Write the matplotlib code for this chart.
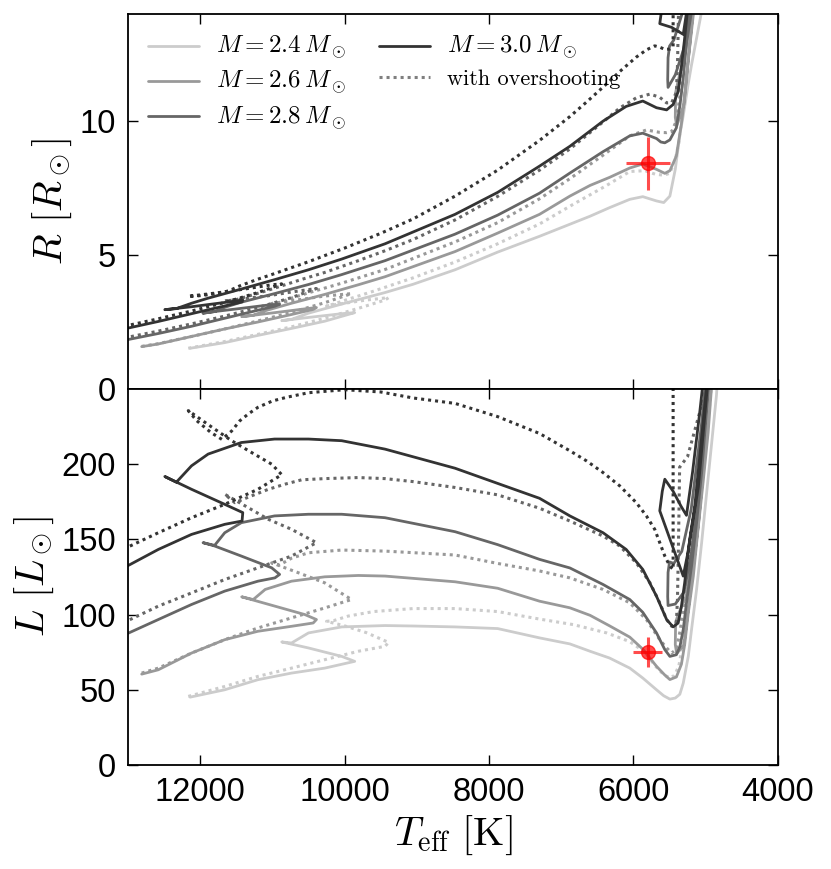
import matplotlib.pyplot as plt
from matplotlib.lines import Line2D

plt.rcParams["mathtext.fontset"] = "cm"
plt.rcParams["font.family"] = ["Liberation Sans", "DejaVu Sans"]

# ---- tracks without overshooting: Teff [K], L [Lsun], R [Rsun]
teff_24 = [12140, 11660, 11200, 10735, 10275, 9860, 10040, 10500, 10870, 10735, 10500, 10040,
           9440, 9050, 8470, 7880, 7300, 6880, 6600, 6330, 6050, 5870, 5680, 5580, 5495, 5420,
           5357, 5310, 5240, 5195, 5125, 5055, 4990, 4920, 4850, 4800]
lum_24 = [45.1, 50.0, 56.7, 61.1, 64.4, 68.9, 72.2, 77.8, 81.8, 81.1, 87.8, 91.8,
          92.7, 92.4, 91.8, 90.7, 84.5, 80.5, 75.6, 71.1, 64.4, 57.8, 50.0, 46.0, 43.8, 44.5,
          47.0, 54.4, 72.2, 90.0, 116.7, 147.8, 178.9, 212.2, 245.6, 280.0]
rad_24 = [1.52, 1.73, 2.00, 2.26, 2.53, 2.85, 2.81, 2.67, 2.55, 2.60, 2.83, 3.17,
          3.60, 3.91, 4.45, 5.11, 5.70, 6.15, 6.45, 6.77, 7.08, 7.18, 7.02, 6.96, 7.20, 8.20,
          9.50, 10.20, 11.40, 12.10, 13.10, 14.10, 15.00, 16.00, 17.00, 18.00]

teff_26 = [12810, 12580, 12120, 11660, 11200, 10735, 10435, 10390, 10550, 10965, 11425, 11265,
           11100, 10735, 10275, 9810, 9440, 8470, 7880, 7300, 6880, 6600, 6330, 6050, 5870,
           5680, 5565, 5495, 5405, 5335, 5290, 5240, 5170, 5105, 5035, 4965, 4920, 4860, 4930,
           5100, 5300, 5400, 5420, 5415, 5380, 5270, 5150, 4990, 4900]
lum_26 = [60.4, 63.3, 74.4, 83.3, 88.9, 92.2, 94.4, 96.7, 100.0, 105.6, 111.8, 110.0,
          116.7, 122.2, 125.1, 126.0, 125.6, 121.8, 117.5, 108.9, 104.5, 99.5, 92.5, 85.0, 77.0,
          65.6, 59.8, 56.8, 58.5, 67.0, 80.0, 101.1, 125.6, 156.7, 187.8, 221.0, 250.0, 290.0, 250.0,
          160.0, 80.0, 74.0, 80.0, 95.0, 100.0, 112.0, 150.0, 230.0, 280.0]
rad_26 = [1.58, 1.68, 1.96, 2.24, 2.50, 2.78, 2.97, 3.04, 2.99, 2.85, 2.70, 2.75,
          2.92, 3.20, 3.53, 3.89, 4.19, 5.13, 5.82, 6.52, 7.20, 7.60, 7.90, 8.25, 8.40,
          8.20, 8.05, 8.15, 8.70, 9.90, 10.90, 12.30, 13.97, 16.00, 18.01, 20.09, 21.76, 24.02, 21.67,
          16.20, 10.61, 9.83, 10.14, 11.07, 11.51, 12.70, 15.38, 20.29, 23.22]

teff_28 = [13150, 12970, 12580, 12120, 11660, 11200, 10965, 10900, 11010, 11430, 11800, 11960,
           11800, 11660, 11430, 10970, 10500, 10040, 9440, 8470, 7880, 7300, 6880, 6420, 6050,
           5870, 5680, 5620, 5565, 5495, 5405, 5355, 5310, 5265, 5195, 5125, 5055, 4965, 4880,
           4950, 5090, 5200, 5300, 5420, 5520, 5525, 5520, 5500, 5440, 5330, 5200, 5060, 4970]
lum_28 = [84.3, 88.2, 96.7, 106.7, 115.6, 122.2, 124.4, 126.7, 131.1, 138.9, 145.6, 147.8,
          146.0, 154.4, 161.1, 165.6, 166.7, 166.7, 164.4, 155.1, 146.5, 136.7, 131.0, 120.0, 110.0,
          101.5, 87.8, 82.0, 76.7, 72.2, 73.3, 78.9, 90.0, 107.8, 132.2, 161.1, 194.4, 250.0, 300.0,
          260.0, 185.0, 140.0, 115.0, 107.0, 106.0, 112.0, 128.0, 135.0, 134.0, 142.0, 170.0, 225.0, 270.0]
rad_28 = [1.77, 1.86, 2.07, 2.34, 2.64, 2.94, 3.09, 3.16, 3.15, 3.01, 2.89, 2.83,
          2.89, 3.05, 3.24, 3.56, 3.90, 4.27, 4.79, 5.78, 6.49, 7.31, 8.06, 8.86, 9.45,
          9.55, 9.35, 9.22, 9.19, 9.30, 9.75, 10.60, 11.60, 12.90, 14.10, 16.10, 18.18, 21.37, 24.23,
          21.93, 17.49, 14.58, 12.72, 11.73, 11.26, 11.55, 12.37, 12.80, 13.03, 13.97, 16.06, 19.52, 22.16]

teff_30 = [13150, 12970, 12580, 12120, 11660, 11420, 11410, 11660, 12120, 12490, 12330, 12120,
           11890, 11430, 10970, 10500, 10040, 9440, 8470, 7880, 7300, 6880, 6420, 6100, 5870,
           5680, 5540, 5450, 5380, 5335, 5290, 5220, 5150, 5080, 4990, 4900, 4960, 5100, 5250,
           5310, 5470, 5635, 5600, 5565, 5450, 5340, 5265, 5180, 5080, 5000]
lum_30 = [129.0, 133.3, 143.3, 153.3, 160.0, 162.2, 167.8, 173.3, 183.3, 191.8, 188.0, 198.9,
          206.7, 214.4, 216.7, 216.7, 215.6, 210.0, 197.3, 187.2, 177.3, 165.6, 154.4, 143.3, 130.0,
          112.2, 96.7, 91.8, 94.4, 105.6, 121.1, 150.0, 172.2, 205.6, 250.0, 320.0, 260.0, 185.0, 140.0,
          125.6, 147.0, 169.0, 182.0, 190.0, 182.0, 172.0, 166.0, 195.0, 235.0, 270.0]
rad_30 = [2.19, 2.29, 2.52, 2.81, 3.10, 3.25, 3.32, 3.23, 3.07, 2.96, 3.00, 3.20,
          3.39, 3.73, 4.08, 4.45, 4.85, 5.42, 6.52, 7.34, 8.32, 9.06, 10.00, 10.55, 10.75,
          10.50, 10.42, 10.62, 11.10, 12.03, 13.10, 14.98, 16.48, 18.51, 21.15, 24.82, 21.84, 17.42, 14.30,
          13.24, 13.50, 13.64, 14.33, 14.83, 15.13, 15.32, 15.49, 17.34, 19.79, 21.90]

# ---- tracks with overshooting
teff_24os = [12165, 11660, 11200, 10735, 10275, 9810, 9440, 9390, 9700, 10000, 10250, 10150,
             9950, 9600, 9050, 8470, 7880, 7300, 6830, 6370, 6050, 5840, 5700, 5580, 5500,
             5430, 5370, 5300, 5215, 5120, 5010, 4900]
lum_24os = [45.6, 52.2, 58.9, 64.4, 70.0, 75.6, 78.9, 81.5, 88.0, 92.5, 95.5, 96.0,
            99.0, 102.0, 104.0, 104.0, 102.0, 97.0, 93.3, 87.8, 82.0, 75.0, 66.0, 60.0, 58.0,
            59.5, 66.0, 85.0, 115.0, 155.0, 205.0, 262.0]
rad_24os = [1.52, 1.77, 2.04, 2.32, 2.64, 3.01, 3.32, 3.41, 3.32, 3.20, 3.10, 3.17,
            3.35, 3.65, 4.15, 4.74, 5.42, 6.16, 6.90, 7.60, 8.12, 8.15, 8.02, 7.98, 8.05,
            8.45, 9.20, 10.80, 13.00, 15.82, 19.00, 22.46]

teff_26os = [12810, 12580, 12120, 11660, 11200, 10735, 10275, 9905, 10275, 10640, 11010, 10900,
             10735, 10500, 10040, 9440, 8470, 7880, 7300, 6880, 6420, 6050, 5820, 5635, 5540,
             5470, 5405, 5350, 5300, 5230, 5150, 5050, 4950]
lum_26os = [61.1, 64.4, 74.4, 83.3, 91.1, 97.8, 104.4, 110.0, 121.1, 127.8, 134.4, 133.0,
            137.5, 141.1, 142.9, 142.2, 139.6, 134.0, 129.0, 124.4, 116.7, 107.8, 96.7, 83.3, 77.8,
            74.4, 77.0, 90.0, 108.0, 135.0, 170.0, 215.0, 265.0]
rad_26os = [1.59, 1.69, 1.96, 2.24, 2.54, 2.86, 3.22, 3.56, 3.47, 3.33, 3.19, 3.23,
            3.39, 3.59, 3.95, 4.46, 5.49, 6.21, 7.10, 7.85, 8.73, 9.45, 9.67, 9.58, 9.57,
            9.61, 10.01, 11.04, 12.33, 14.15, 16.38, 19.16, 22.14]

teff_28os = [13150, 12970, 12580, 12120, 11660, 11200, 10735, 10390, 10735, 11055, 11335, 11660,
             11520, 11290, 11055, 10825, 10595, 10275, 9810, 9440, 9050, 8470, 7880, 7300, 6880,
             6420, 6190, 5960, 5770, 5635, 5540, 5470, 5405, 5390, 5380, 5370, 5360, 5250, 5050, 4950]
lum_28os = [92.6, 96.7, 105.6, 114.4, 123.3, 131.1, 138.9, 147.8, 156.7, 163.3, 171.1, 180.0,
            174.4, 178.9, 183.3, 186.7, 189.6, 190.4, 191.1, 190.4, 188.4, 184.5, 179.6, 170.7, 162.2,
            152.2, 145.6, 134.4, 121.1, 107.8, 96.7, 92.2, 94.4, 110.0, 135.0, 165.0, 198.0, 205.0, 240.0, 280.0]
rad_28os = [1.85, 1.95, 2.16, 2.43, 2.72, 3.04, 3.41, 3.75, 3.62, 3.48, 3.39, 3.29,
            3.32, 3.50, 3.69, 3.89, 4.09, 4.35, 4.79, 5.16, 5.58, 6.31, 7.19, 8.17, 8.96,
            9.97, 10.49, 10.87, 11.01, 10.89, 10.68, 10.69, 11.08, 12.03, 13.37, 14.84, 16.32, 17.31, 20.24, 22.75]

teff_30os = [13150, 12970, 12580, 12120, 11660, 11200, 10870, 11010, 11290, 11565, 11850, 12165,
             12050, 11850, 11700, 11565, 11450, 11330, 11200, 11000, 10800, 10500, 10000, 9500, 9050,
             8470, 7880, 7300, 6880, 6650, 6420, 6190, 5960, 5820, 5705, 5635, 5565, 5495, 5450,
             5450, 5450, 5450]
lum_30os = [141.6, 145.6, 154.4, 164.4, 173.3, 183.3, 193.0, 200.0, 207.8, 215.6, 225.0, 235.6,
            229.0, 221.0, 216.5, 222.0, 228.9, 233.5, 237.8, 242.0, 244.5, 247.5, 249.5, 248.0, 244.0,
            240.4, 231.6, 220.4, 208.9, 202.2, 194.4, 185.6, 174.4, 165.6, 156.7, 147.8, 138.9, 132.2, 130.0,
            160.0, 210.0, 260.0]
rad_30os = [2.29, 2.39, 2.62, 2.91, 3.23, 3.60, 3.92, 3.89, 3.77, 3.66, 3.56, 3.46,
            3.47, 3.53, 3.58, 3.71, 3.85, 3.97, 4.10, 4.28, 4.47, 4.75, 5.26, 5.81, 6.35,
            7.20, 8.17, 9.28, 10.17, 10.71, 11.27, 11.85, 12.39, 12.66, 12.81, 12.76, 12.68, 12.69, 12.79,
            14.19, 16.25, 18.09]

# ---- observed star
star_teff = 5800
star_rad, star_rad_err, star_teff_err_r = 8.42, 1.0, 300
star_lum, star_lum_err, star_teff_err_l = 75.0, 10.0, 200

masses = ["2.4", "2.6", "2.8", "3.0"]
colors = ["#cccccc", "#999999", "#666666", "#333333"]
tracks = [
    (teff_24, lum_24, rad_24, teff_24os, lum_24os, rad_24os),
    (teff_26, lum_26, rad_26, teff_26os, lum_26os, rad_26os),
    (teff_28, lum_28, rad_28, teff_28os, lum_28os, rad_28os),
    (teff_30, lum_30, rad_30, teff_30os, lum_30os, rad_30os),
]

fig = plt.figure(figsize=(8.31, 8.69), dpi=100)
ax_r = fig.add_axes([0.154, 0.5524, 0.782, 0.4315])
ax_l = fig.add_axes([0.154, 0.1197, 0.782, 0.4327])

dots = (0, (1, 1.3))
handles = []
for m, c, (t, l, r, tos, los, ros) in zip(masses, colors, tracks):
    ax_r.plot(tos, ros, color=c, lw=2.2, ls=dots)
    ax_l.plot(tos, los, color=c, lw=2.2, ls=dots)
    h, = ax_r.plot(t, r, color=c, lw=2.0, solid_capstyle="round", solid_joinstyle="round")
    ax_l.plot(t, l, color=c, lw=2.0, solid_capstyle="round", solid_joinstyle="round")
    handles.append(h)

ax_r.errorbar(star_teff, star_rad, xerr=star_teff_err_r, yerr=star_rad_err, fmt="o",
              color="red", ms=10, elinewidth=2.2, capsize=0, alpha=0.7, zorder=10)
ax_l.errorbar(star_teff, star_lum, xerr=star_teff_err_l, yerr=star_lum_err, fmt="o",
              color="red", ms=10, elinewidth=2.2, capsize=0, alpha=0.7, zorder=10)

handles.append(Line2D([], [], color="#7f7f7f", lw=2.2, ls=dots))
labels = [r"$M = %s\,M_\odot$" % m for m in masses] + ["with overshooting"]
leg = ax_r.legend(handles, labels, loc="upper left", ncol=2, frameon=False,
                  prop={"family": "cmr10", "size": 16}, handlelength=2.3,
                  labelspacing=0.35, columnspacing=1.5, handletextpad=0.75)
for txt in leg.get_texts()[:4]:
    txt.set_fontsize(18)

for ax in (ax_r, ax_l):
    ax.set_xlim(13000, 4000)
    ax.set_xticks([12000, 10000, 8000, 6000, 4000])
    ax.tick_params(direction="in", top=True, right=True, length=7, width=1.0,
                   labelsize=23.5, pad=8.5)
    for s in ax.spines.values():
        s.set_linewidth(1.3)

ax_r.tick_params(labelbottom=False)
ax_r.set_ylim(0, 14)
ax_r.set_yticks([0, 5, 10])
ax_l.set_ylim(0, 250)
ax_l.set_yticks([0, 50, 100, 150, 200])

ax_r.set_ylabel(r"$R\ [R_\odot]$", fontsize=29)
ax_l.set_ylabel(r"$L\ [L_\odot]$", fontsize=29)
ax_l.set_xlabel(r"$T_{\rm eff}\ [{\rm K}]$", fontsize=29)

fig.savefig("out.png", dpi=100)
